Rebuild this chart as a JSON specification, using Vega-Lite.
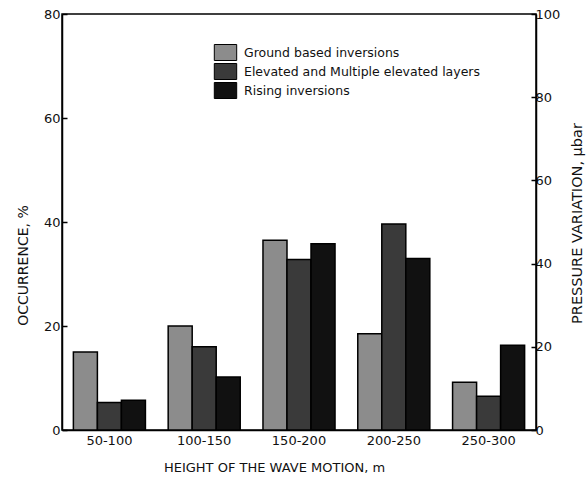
{
  "$schema": "https://vega.github.io/schema/vega-lite/v6.json",
  "width": 474,
  "height": 416,
  "autosize": "none",
  "padding": {"left": 62, "top": 14, "right": 50, "bottom": 50},
  "background": "white",
  "config": {
    "view": {"stroke": "black", "strokeWidth": 1.5},
    "font": "DejaVu Sans",
    "axis": {
      "domainColor": "black",
      "domainWidth": 1.5,
      "tickColor": "black",
      "tickWidth": 1.5,
      "labelColor": "#111",
      "titleColor": "#111",
      "labelFontSize": 13,
      "titleFontSize": 12.5,
      "titleFontWeight": "normal",
      "grid": false
    },
    "legend": {"labelFontSize": 12.5, "labelColor": "#111", "labelLimit": 0}
  },
  "layer": [
    {
      "data": {
        "values": [
          {"height": "50-100", "type": "Ground based inversions", "occurrence": 15},
          {"height": "50-100", "type": "Elevated and Multiple elevated layers", "occurrence": 5.3},
          {"height": "50-100", "type": "Rising inversions", "occurrence": 5.7},
          {"height": "100-150", "type": "Ground based inversions", "occurrence": 20},
          {"height": "100-150", "type": "Elevated and Multiple elevated layers", "occurrence": 16},
          {"height": "100-150", "type": "Rising inversions", "occurrence": 10.2},
          {"height": "150-200", "type": "Ground based inversions", "occurrence": 36.5},
          {"height": "150-200", "type": "Elevated and Multiple elevated layers", "occurrence": 32.8},
          {"height": "150-200", "type": "Rising inversions", "occurrence": 35.8},
          {"height": "200-250", "type": "Ground based inversions", "occurrence": 18.5},
          {"height": "200-250", "type": "Elevated and Multiple elevated layers", "occurrence": 39.6},
          {"height": "200-250", "type": "Rising inversions", "occurrence": 33},
          {"height": "250-300", "type": "Ground based inversions", "occurrence": 9.2},
          {"height": "250-300", "type": "Elevated and Multiple elevated layers", "occurrence": 6.5},
          {"height": "250-300", "type": "Rising inversions", "occurrence": 16.3}
        ]
      },
      "mark": {"type": "bar", "stroke": "black", "strokeWidth": 1.5},
      "encoding": {
        "x": {
          "field": "height",
          "type": "nominal",
          "sort": ["50-100", "100-150", "150-200", "200-250", "250-300"],
          "scale": {"paddingInner": 0.24, "paddingOuter": 0.12},
          "axis": {
            "title": "HEIGHT OF THE WAVE MOTION, m",
            "labelAngle": 0,
            "ticks": false,
            "labelPadding": 4,
            "titleX": 212,
            "titleY": 37,
            "titleFontSize": 13,
            "titleBaseline": "middle",
            "titleAlign": "center"
          }
        },
        "xOffset": {
          "field": "type",
          "type": "nominal",
          "sort": ["Ground based inversions", "Elevated and Multiple elevated layers", "Rising inversions"],
          "scale": {"paddingInner": 0, "paddingOuter": 0}
        },
        "y": {
          "field": "occurrence",
          "type": "quantitative",
          "scale": {"domain": [0, 80]},
          "axis": {
            "title": "OCCURRENCE, %",
            "values": [0, 20, 40, 60, 80],
            "tickSize": -5,
            "labelPadding": 7,
            "titleX": -39,
            "titleY": 251,
            "titleFontSize": 14,
            "titleAngle": 270,
            "titleAlign": "center",
            "titleBaseline": "middle"
          }
        },
        "color": {
          "field": "type",
          "type": "nominal",
          "scale": {
            "domain": ["Ground based inversions", "Elevated and Multiple elevated layers", "Rising inversions"],
            "range": ["#8c8c8c", "#3a3a3a", "#111111"]
          },
          "legend": {
            "title": null,
            "orient": "none",
            "legendX": 155,
            "legendY": 30,
            "symbolType": "M-1.4,-1L1.4,-1L1.4,1L-1.4,1Z",
            "symbolSize": 256,
            "symbolStrokeColor": "black",
            "symbolStrokeWidth": 1,
            "labelOffset": 10,
            "rowPadding": -2.5
          }
        }
      }
    },
    {
      "data": {"values": [{"p": 0}, {"p": 100}]},
      "mark": {"type": "point", "opacity": 0},
      "encoding": {
        "y": {
          "field": "p",
          "type": "quantitative",
          "scale": {"domain": [0, 100]},
          "axis": {
            "orient": "right",
            "title": "PRESSURE VARIATION, μbar",
            "values": [0, 20, 40, 60, 80, 100],
            "tickSize": -5,
            "labelPadding": 4,
            "titleX": 41,
            "titleY": 209,
            "titleFontSize": 14.5,
            "titleAngle": 270,
            "titleAlign": "center",
            "titleBaseline": "middle"
          }
        }
      }
    }
  ],
  "resolve": {"scale": {"y": "independent"}}
}
